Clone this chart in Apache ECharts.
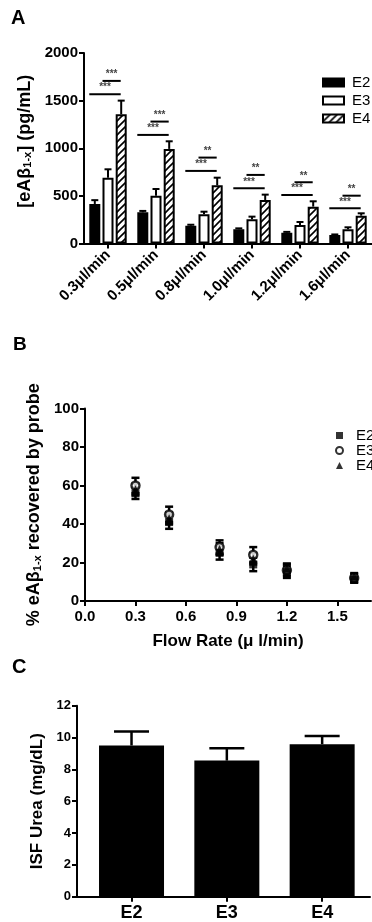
<!DOCTYPE html>
<html><head><meta charset="utf-8">
<script src="https://cdn.jsdelivr.net/npm/echarts@6/dist/echarts.min.js"></script>
<style>html,body{margin:0;padding:0;background:#fff}#c{width:372px;height:922px}</style>
</head><body><div id="c"></div>
<script>
// ---------- Panel A data ----------
const catsA = ['0.3\u03bcl/min','0.5\u03bcl/min','0.8\u03bcl/min','1.0\u03bcl/min','1.2\u03bcl/min','1.6\u03bcl/min'];
const groupsA = ['E2','E3','E4'];
const aE2 = [415, 327, 187, 149, 114, 89];
const aE2err = [40, 15, 10, 10, 8, 6];
const aE3 = [691, 502, 306, 254, 194, 149];
const aE3err = [88, 70, 28, 28, 32, 21];
const aE4 = [1357, 993, 611, 457, 387, 292];
const aE4err = [143, 80, 80, 56, 56, 25];
// significance: E2 vs E4 (long) and E3 vs E4 (short)
const sigLongY = [1567, 1140, 762, 580, 509, 370];
const sigLongTxt = ['***','***','***','***','***','***'];
const sigShortY = [1707, 1280, 902, 720, 643, 502];
const sigShortTxt = ['***','***','**','**','**','**'];

// ---------- Panel B data ----------
const flowB = [0.3, 0.5, 0.8, 1.0, 1.2, 1.6];
const bE2 = [56, 41, 25, 19, 15, 11];
const bE2err = [3, 3.5, 3.5, 3.5, 3, 1.5];
const bE3 = [60, 45, 28, 24, 16, 12];
const bE3err = [4, 4, 3.5, 4, 3, 2];
const bE4 = [58, 43, 27, 22, 17, 13];
const bE4err = [3, 3, 3, 3, 2.5, 1.5];
const xTicksB = [0, 0.3, 0.6, 0.9, 1.2, 1.5];

// ---------- Panel C data ----------
const catsC = ['E2','E3','E4'];
const cUrea = [9.5, 8.55, 9.58];
const cUreaErr = [0.88, 0.78, 0.52];

// ---------- style ----------
const FONT = 'Liberation Sans, Arial, Helvetica, sans-serif';
const BW = 11, GAP = 0.2;

function hatch(){
  const s = 7, cv = document.createElement('canvas');
  cv.width = s; cv.height = s;
  const g = cv.getContext('2d');
  g.fillStyle = '#fff'; g.fillRect(0,0,s,s);
  g.strokeStyle = '#000'; g.lineWidth = 1.6;
  g.beginPath();
  g.moveTo(-1, s+1); g.lineTo(s+1, -1);
  g.moveTo(-1, 1); g.lineTo(1, -1);
  g.moveTo(s-1, s+1); g.lineTo(s+1, s-1);
  g.stroke();
  return cv;
}
const hatchFill = {image: hatch(), repeat: 'repeat'};

const axisLine = {show:true, onZero:false, lineStyle:{color:'#000', width:2}};
const axisTick = {show:true, inside:false, length:5, lineStyle:{color:'#000', width:2}};
const tickLabel = {color:'#000', fontFamily:FONT, fontWeight:'bold', fontSize:15};

const chart = echarts.init(document.getElementById('c'), null, {renderer:'canvas'});

function errA(seriesIdx, means, errs){
  return {
    type:'custom', xAxisIndex:0, yAxisIndex:0, z:5,
    data: means.map((m,i)=>[i, m, errs[i]]),
    renderItem(params, api){
      const b = api.coord([api.value(0), api.value(1)]);
      const t = api.coord([api.value(0), api.value(1)+api.value(2)]);
      const x = b[0] + (seriesIdx-1)*BW*(1+GAP);
      const st = {stroke:'#000', lineWidth:2};
      return {type:'group', children:[
        {type:'line', shape:{x1:x, y1:b[1], x2:x, y2:t[1]}, style:st},
        {type:'line', shape:{x1:x-3.5, y1:t[1], x2:x+3.5, y2:t[1]}, style:st}
      ]};
    }
  };
}
function sigA(ys, txts, fromIdx){
  return {
    type:'custom', xAxisIndex:0, yAxisIndex:0, z:6,
    data: ys.map((y,i)=>[i, y, fromIdx]),
    renderItem(params, api){
      const p = api.coord([api.value(0), api.value(1)]);
      const x1 = p[0] + (api.value(2)-1)*BW*(1+GAP) - BW/2;
      const x2 = p[0] + 1*BW*(1+GAP) - 0.5;
      return {type:'group', children:[
        {type:'line', shape:{x1:x1, y1:p[1], x2:x2, y2:p[1]}, style:{stroke:'#000', lineWidth:2}},
        {type:'text', style:{text: txts[params.dataIndex], x:(x1+x2)/2, y:p[1]-1.5,
          textAlign:'center', textVerticalAlign:'bottom', font:'bold 10px '+FONT, fill:'#444'}}
      ]};
    }
  };
}
function errB(means, errs){
  return {
    type:'custom', xAxisIndex:1, yAxisIndex:1, z:5,
    data: means.map((m,i)=>[flowB[i], m, errs[i]]),
    renderItem(params, api){
      const lo = api.coord([api.value(0), api.value(1)-api.value(2)]);
      const hi = api.coord([api.value(0), api.value(1)+api.value(2)]);
      const x = lo[0];
      const st = {stroke:'#000', lineWidth:2.5};
      return {type:'group', children:[
        {type:'line', shape:{x1:x, y1:lo[1], x2:x, y2:hi[1]}, style:st},
        {type:'line', shape:{x1:x-4, y1:hi[1], x2:x+4, y2:hi[1]}, style:st},
        {type:'line', shape:{x1:x-4, y1:lo[1], x2:x+4, y2:lo[1]}, style:st}
      ]};
    }
  };
}

const option = {
  animation:false,
  backgroundColor:'#fff',
  textStyle:{fontFamily:FONT},
  graphic:[
    {type:'text', left:11, top:8, style:{text:'A', font:'bold 20px '+FONT, fill:'#000'}},
    {type:'text', left:13, top:335, style:{text:'B', font:'bold 19px '+FONT, fill:'#000'}},
    {type:'text', left:12, top:657, style:{text:'C', font:'bold 20px '+FONT, fill:'#000'}}
  ],
  legend:[
    {data:groupsA, orient:'vertical', left:317, top:70, itemWidth:21, itemHeight:8, itemGap:3,
     icon:'rect', textStyle:{fontFamily:FONT, fontSize:15, color:'#000', padding:[0,0,0,3]},
     selectedMode:false},
    {data:[{name:'E2 ', icon:'rect'},{name:'E3 ', icon:'circle'},{name:'E4 ', icon:'triangle'}],
     orient:'vertical', left:330, top:423, itemWidth:7, itemHeight:7, itemGap:0,
     textStyle:{fontFamily:FONT, fontSize:15, color:'#000', lineHeight:13.6, padding:[0,0,0,8]},
     selectedMode:false}
  ],
  grid:[
    {left:84, top:53, width:288, height:190.5},
    {left:85, top:408.5, width:286, height:192.5},
    {left:77, top:705.7, width:293, height:191}
  ],
  xAxis:[
    {type:'category', gridIndex:0, data:catsA, boundaryGap:true,
     axisLine:axisLine, axisTick:Object.assign({alignWithLabel:true}, axisTick),
     axisLabel:Object.assign({rotate:45, margin:9, interval:0}, tickLabel), splitLine:{show:false}},
    {type:'value', gridIndex:1, min:0, max:1.7,
     axisLine:axisLine, axisTick:Object.assign({customValues:xTicksB}, axisTick),
     axisLabel:Object.assign({customValues:xTicksB, margin:8, formatter:v=>v.toFixed(1)}, tickLabel),
     splitLine:{show:false},
     name:'Flow Rate (\u03bc l/min)', nameLocation:'middle', nameGap:32,
     nameTextStyle:{fontFamily:FONT, fontWeight:'bold', fontSize:17, color:'#000'}},
    {type:'value', gridIndex:2, min:-0.572, max:2.502,
     axisLine:axisLine, axisTick:Object.assign({customValues:[0,1,2]}, axisTick),
     axisLabel:Object.assign({}, tickLabel, {customValues:[0,1,2], fontSize:18, margin:7, formatter:v=>catsC[Math.round(v)]}),
     splitLine:{show:false}}
  ],
  yAxis:[
    {type:'value', gridIndex:0, min:0, max:2000, interval:500,
     axisLine:axisLine, axisTick:axisTick, axisLabel:Object.assign({margin:6, formatter:v=>String(v)}, tickLabel), splitLine:{show:false},
     name:'[eA\u03b2{sub|1-x}] (pg/mL)', nameLocation:'middle', nameGap:49,
     nameTextStyle:{fontFamily:FONT, fontWeight:'bold', fontSize:18, color:'#000', padding:[0,0,0,14],
       rich:{sub:{fontFamily:FONT, fontWeight:'bold', fontSize:11, color:'#000', verticalAlign:'bottom', lineHeight:14}}}},
    {type:'value', gridIndex:1, min:0, max:100, interval:20,
     axisLine:axisLine, axisTick:axisTick, axisLabel:Object.assign({margin:6}, tickLabel), splitLine:{show:false},
     name:'% eA\u03b2{sub|1-x} recovered by probe', nameLocation:'middle', nameGap:41,
     nameTextStyle:{fontFamily:FONT, fontWeight:'bold', fontSize:18, color:'#000',
       rich:{sub:{fontFamily:FONT, fontWeight:'bold', fontSize:11, color:'#000', verticalAlign:'bottom', lineHeight:14}}}},
    {type:'value', gridIndex:2, min:0, max:12, interval:2,
     axisLine:axisLine, axisTick:axisTick, axisLabel:Object.assign({}, tickLabel, {fontSize:13, margin:6}), splitLine:{show:false},
     name:'ISF Urea (mg/dL)', nameLocation:'middle', nameGap:24,
     nameTextStyle:{fontFamily:FONT, fontWeight:'bold', fontSize:17, color:'#000'}}
  ],
  series:[
    {name:'E2', type:'bar', xAxisIndex:0, yAxisIndex:0, data:aE2, barWidth:BW, barGap:(GAP*100)+'%',
     itemStyle:{color:'#000', borderColor:'#000', borderWidth:2}},
    {name:'E3', type:'bar', xAxisIndex:0, yAxisIndex:0, data:aE3, barWidth:BW, barGap:(GAP*100)+'%',
     itemStyle:{color:'#fff', borderColor:'#000', borderWidth:2}},
    {name:'E4', type:'bar', xAxisIndex:0, yAxisIndex:0, data:aE4, barWidth:BW, barGap:(GAP*100)+'%',
     itemStyle:{color:hatchFill, borderColor:'#000', borderWidth:2}},
    errA(0, aE2, aE2err), errA(1, aE3, aE3err), errA(2, aE4, aE4err),
    sigA(sigLongY, sigLongTxt, 0), sigA(sigShortY, sigShortTxt, 1),

    errB(bE2, bE2err), errB(bE3, bE3err), errB(bE4, bE4err),
    {name:'E3 ', type:'scatter', xAxisIndex:1, yAxisIndex:1, z:6, symbol:'circle', symbolSize:8,
     data:bE3.map((v,i)=>[flowB[i], v]), itemStyle:{color:'#fff', borderColor:'#000', borderWidth:2.5}},
    {name:'E2 ', type:'scatter', xAxisIndex:1, yAxisIndex:1, z:7, symbol:'rect', symbolSize:8,
     data:bE2.map((v,i)=>[flowB[i], v]), itemStyle:{color:'#000'}},
    {name:'E4 ', type:'scatter', xAxisIndex:1, yAxisIndex:1, z:7, symbol:'triangle', symbolSize:8,
     data:bE4.map((v,i)=>[flowB[i], v]), itemStyle:{color:'#000'}},

    {type:'bar', xAxisIndex:2, yAxisIndex:2, barWidth:65, data:cUrea.map((v,i)=>[i, v]),
     itemStyle:{color:'#000'}},
    {type:'custom', xAxisIndex:2, yAxisIndex:2, z:5,
     data:cUrea.map((v,i)=>[i, v, cUreaErr[i]]),
     renderItem(params, api){
       const b = api.coord([api.value(0), api.value(1)]);
       const t = api.coord([api.value(0), api.value(1)+api.value(2)]);
       const st = {stroke:'#000', lineWidth:2.5};
       return {type:'group', children:[
         {type:'line', shape:{x1:b[0], y1:b[1], x2:b[0], y2:t[1]}, style:st},
         {type:'line', shape:{x1:b[0]-17.5, y1:t[1], x2:b[0]+17.5, y2:t[1]}, style:st}
       ]};
     }}
  ]
};
chart.setOption(option);
</script>
</body></html>
